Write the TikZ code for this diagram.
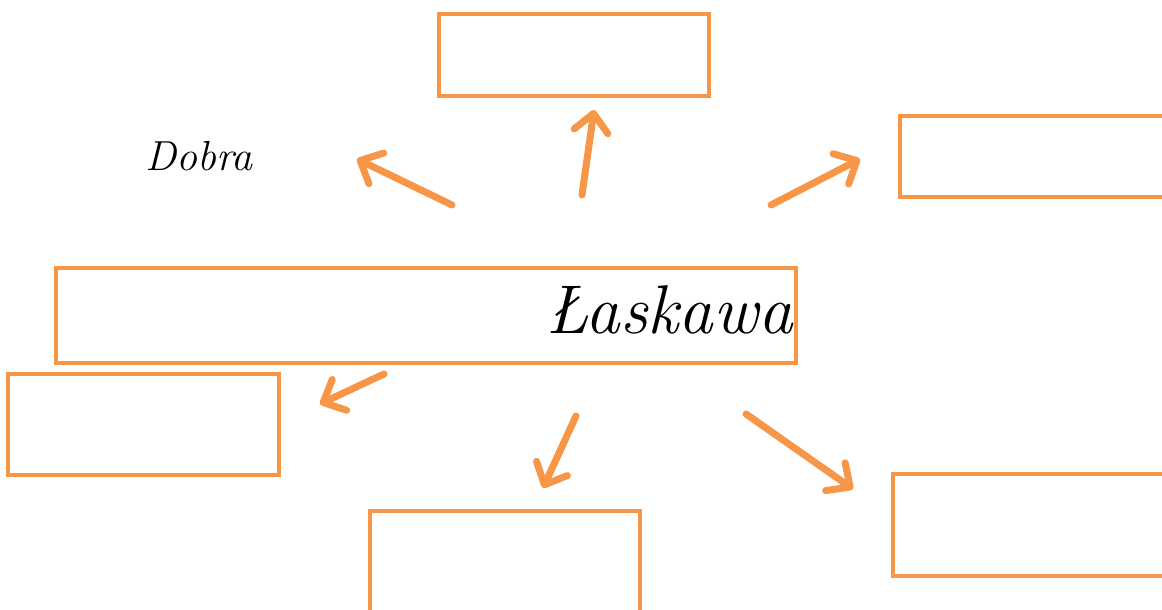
\documentclass[tikz,border=0pt]{standalone}
\usepackage{fontspec}
\usetikzlibrary{arrows.meta}
\definecolor{orng}{HTML}{F79646}
\tikzset{
  box/.style={draw=orng, line width=4pt},
  arr/.style={draw=orng, line width=7pt, line cap=round, line join=round,
    -{Straight Barb[length=18pt,width=34pt,line cap=round,line join=round]}},
  word/.style={font=\itshape, inner sep=0pt}
}
\begin{document}
\begin{tikzpicture}[x=1pt,y=-1pt]
\useasboundingbox (0,0) rectangle (1162,610);
\clip (0,0) rectangle (1162,610);
% boxes
\draw[box] (439,14) rectangle (709,96);
\draw[box] (900,116) rectangle (1175,197);
\draw[box] (56,268) rectangle (796,363);
\draw[box] (8,374) rectangle (279,475);
\draw[box] (370,511) rectangle (640,620);
\draw[box] (893,474) rectangle (1175,576);
% texts
\node[word, anchor=base west] (dobra) at (145,170) {\fontsize{42}{46}\selectfont Dobra};
\node[word, anchor=base east] (laskawa) at (793,333) {\fontsize{69}{72}\selectfont Łaskawa};
% arrow coordinates
\coordinate (a1s) at (452,205); \coordinate (a1e) at (357,159);
\coordinate (a2s) at (582,195); \coordinate (a2e) at (594,110);
\coordinate (a3s) at (771,205); \coordinate (a3e) at (860,159);
\coordinate (a4s) at (384,374); \coordinate (a4e) at (320,404);
\coordinate (a5s) at (576,416); \coordinate (a5e) at (543,488);
\coordinate (a6s) at (746,414); \coordinate (a6e) at (853,489);
\draw[arr] (a1s) -- (a1e);
\draw[arr] (a2s) -- (a2e);
\draw[arr] (a3s) -- (a3e);
\draw[arr] (a4s) -- (a4e);
\draw[arr] (a5s) -- (a5e);
\draw[arr] (a6s) -- (a6e);
\end{tikzpicture}
\end{document}
